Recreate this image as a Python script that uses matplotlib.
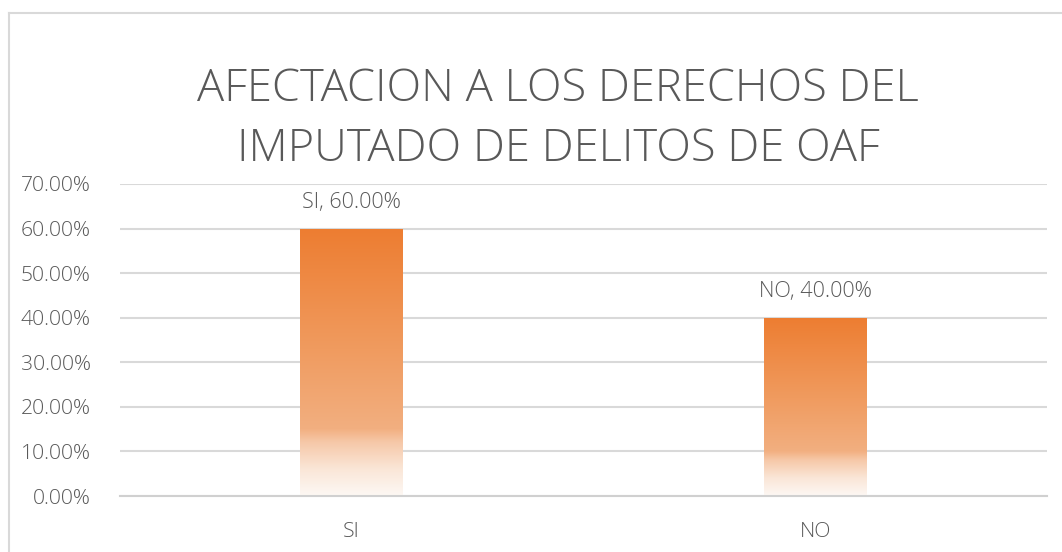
import matplotlib
matplotlib.use("Agg")
import matplotlib.pyplot as plt
import numpy as np
from matplotlib.colors import LinearSegmentedColormap
from matplotlib.lines import Line2D

categories = ["SI", "NO"]
values = [60.0, 40.0]
yticks = [0, 10, 20, 30, 40, 50, 60, 70]
title = "AFECTACION A LOS DERECHOS DEL\nIMPUTADO DE DELITOS DE OAF"

W, H = 1062, 552
fig = plt.figure(figsize=(W / 100, H / 100), dpi=100)
fig.patch.set_facecolor("white")
FONT = ["Open Sans", "DejaVu Sans"]

# chart border (left and top visible)
fig.add_artist(Line2D([8.5 / W, 8.5 / W], [0, 1 - 13 / H], transform=fig.transFigure,
                      color="#D9D9D9", lw=1.5))
fig.add_artist(Line2D([8.5 / W, 1], [1 - 13 / H, 1 - 13 / H], transform=fig.transFigure,
                      color="#D9D9D9", lw=1.5))

left, right = 120 / W, 1047 / W
bottom, top = 1 - 496 / H, 1 - 184 / H
ax = fig.add_axes([left, bottom, right - left, top - bottom])
ax.set_facecolor("none")

x = np.arange(len(categories))
bars = ax.bar(x, values, width=0.222, color="none", edgecolor="none", zorder=2)

cmap = LinearSegmentedColormap.from_list(
    "grad",
    [(0.0, (253 / 255, 248 / 255, 244 / 255)),
     (0.10, (250 / 255, 230 / 255, 215 / 255)),
     (0.20, (246 / 255, 200 / 255, 168 / 255)),
     (0.25, (242 / 255, 175 / 255, 128 / 255)),
     (0.55, (240 / 255, 155 / 255, 95 / 255)),
     (1.0, (237 / 255, 125 / 255, 49 / 255))])
grad = np.linspace(0, 1, 256).reshape(-1, 1)
for b in bars:
    x0, y0 = b.get_x(), b.get_y()
    w, h = b.get_width(), b.get_height()
    im = ax.imshow(grad, cmap=cmap, aspect="auto", origin="lower",
                   extent=[x0, x0 + w, y0, y0 + h], zorder=2, interpolation="bilinear")
    im.set_clip_path(b)

ax.set_xlim(-0.5, len(categories) - 0.5)
ax.set_ylim(0, 70)

ax.set_yticks(yticks)
ax.set_yticklabels([f"{v:.2f}%" for v in yticks])
ax.set_xticks(x)
ax.set_xticklabels(categories)
ax.yaxis.grid(True, color="#D9D9D9", lw=1.5, zorder=0)
ax.set_axisbelow(True)
for s in ["left", "right", "top"]:
    ax.spines[s].set_visible(False)
ax.spines["bottom"].set_color("#D0D0D0")
ax.spines["bottom"].set_linewidth(1.5)
ax.tick_params(axis="both", length=0, colors="#595959", labelsize=15.2)
ax.tick_params(axis="y", pad=21)
ax.tick_params(axis="x", pad=19)
for lab in ax.get_xticklabels() + ax.get_yticklabels():
    lab.set_fontfamily(FONT)
    lab.set_fontweight("light")

for xi, c, v in zip(x, categories, values):
    ax.annotate(f"{c}, {v:.2f}%", (xi, v), xytext=(0, 26), textcoords="offset pixels",
                ha="center", va="center", fontsize=15.5, color="#595959",
                family=FONT, fontweight="light")

fig.text(558 / W, 1 - 119.5 / H, title, ha="center", va="center", fontsize=32.6,
         color="#595959", family=FONT, fontweight="light",
         linespacing=1.46)

fig.savefig("out.png", dpi=100)
